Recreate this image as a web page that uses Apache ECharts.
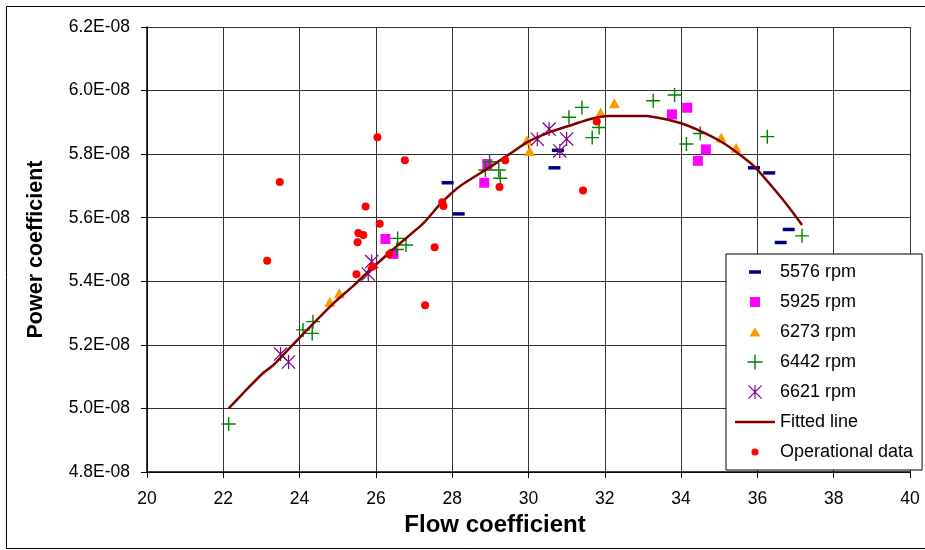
<!DOCTYPE html>
<html>
<head>
<meta charset="utf-8">
<script src="https://cdn.jsdelivr.net/npm/echarts@6/dist/echarts.min.js"></script>
<style>
html,body{margin:0;padding:0;background:#fff;}
#chart{width:925px;height:550px;}
</style>
</head>
<body>
<div id="chart"></div>
<script>
// Values of the power coefficient are in units of 1E-08
const xTicks = { min: 20, max: 40, interval: 2 };
const yTicks = { min: 4.8, max: 6.2, interval: 0.2 };

const rpm5576 = [[27.88,5.71],[28.17,5.612],[30.68,5.757],[30.77,5.812],[35.91,5.757],[36.31,5.741],[36.61,5.522],[36.82,5.563]];
const rpm5925 = [[26.25,5.533],[26.46,5.486],[28.84,5.71],[28.92,5.769],[33.76,5.925],[34.16,5.946],[34.44,5.779],[34.65,5.815]];
const rpm6273 = [[24.79,5.336],[25.04,5.362],[29.96,5.844],[30.03,5.81],[31.89,5.931],[32.25,5.96],[35.05,5.852],[35.44,5.82]];
const rpm6442 = [[22.14,4.951],[24.09,5.247],[24.35,5.273],[24.33,5.236],[26.57,5.535],[26.79,5.514],[26.55,5.50],[28.98,5.776],[28.87,5.75],[29.22,5.75],[29.26,5.724],[31.06,5.916],[31.4,5.947],[31.67,5.852],[31.85,5.884],[33.27,5.968],[33.83,5.986],[34.14,5.832],[34.5,5.865],[36.26,5.855],[37.17,5.543]];
const rpm6621 = [[23.5,5.171],[23.71,5.146],[25.80,5.423],[25.89,5.462],[30.23,5.847],[30.54,5.879],[30.82,5.81],[31.0,5.848]];
const fittedLine = [[22.14,5.0],[22.6,5.058],[23.03,5.11],[23.3,5.135],[23.74,5.19],[24.3,5.26],[24.88,5.33],[25.4,5.385],[25.84,5.435],[26.54,5.51],[27.24,5.582],[27.7,5.645],[28.21,5.70],[29.0,5.76],[29.5,5.80],[29.97,5.838],[30.58,5.87],[31.19,5.894],[31.6,5.91],[32.1,5.92],[33.1,5.92],[33.5,5.912],[34.0,5.897],[34.44,5.876],[35.05,5.839],[35.49,5.803],[35.93,5.76],[36.46,5.687],[36.81,5.635],[37.17,5.577]];
const operational = [[23.15,5.465],[23.48,5.712],[25.49,5.422],[25.52,5.523],[25.54,5.552],[25.67,5.546],[25.73,5.635],[25.91,5.446],[26.04,5.853],[26.10,5.581],[26.35,5.485],[26.76,5.781],[27.29,5.325],[27.54,5.507],[27.74,5.649],[27.77,5.637],[29.24,5.697],[29.39,5.781],[31.43,5.686],[31.79,5.903]];

const names = ['5576 rpm','5925 rpm','6273 rpm','6442 rpm','6621 rpm','Fitted line','Operational data'];
const colors = ['#000080','#FF00FF','#FF9900','#008000','#800080','#800000','#FF0000'];

const FONT = "'Liberation Sans', Arial, sans-serif";

const plusPath = 'path://M6.3,0h1.4v6.3h6.3v1.4h-6.3v6.3h-1.4v-6.3h-6.3v-1.4h6.3z';
const astPath = 'path://M6.4,0h1.2v14h-1.2z M0,0.85L0.85,0L14,13.15L13.15,14z M14,0.85L0.85,14L0,13.15L13.15,0z';

const sp = 'M0,0h0.01v0.01h-0.01z M15.99,15.99h0.01v0.01h-0.01z ';
const legendIcons = [
  'path://' + sp + 'M2,6.25h12v3.5h-12z',
  'path://' + sp + 'M3,3h10v10h-10z',
  'path://' + sp + 'M8,3.5L13.5,12.5L2.5,12.5z',
  'path://' + sp + 'M7.3,0.5h1.4v6.8h6.8v1.4h-6.8v6.8h-1.4v-6.8h-6.8v-1.4h6.8z',
  'path://' + sp + 'M7.4,1h1.2v14h-1.2z M1,1.85L1.85,1L15,14.15L14.15,15z M15,1.85L1.85,15L1,14.15L14.15,1z',
  'path://M0,0h0.01v0.01h-0.01z M39.99,15.99h0.01v0.01h-0.01z M0,6.75h40v2.5h-40z',
  'path://' + sp + 'M4.4,8a3.6,3.6 0 1,0 7.2,0a3.6,3.6 0 1,0 -7.2,0z'
];

const chart = echarts.init(document.getElementById('chart'), null, { renderer: 'canvas' });

function scatter(i, data, symbol, size) {
  return {
    name: names[i], type: 'scatter', data: data, symbol: symbol, symbolSize: size,
    itemStyle: { color: colors[i], opacity: 1 }, animation: false, z: 2 + i,
    emphasis: { disabled: true }
  };
}

chart.setOption({
  backgroundColor: '#fff',
  animation: false,
  grid: { left: 147, right: 15, top: 27, bottom: 78, containLabel: false },
  xAxis: {
    type: 'value', min: xTicks.min, max: xTicks.max, interval: xTicks.interval,
    name: 'Flow coefficient', nameLocation: 'middle', nameGap: 38,
    nameTextStyle: { fontFamily: FONT, fontSize: 24, fontWeight: 'bold', color: '#000', padding: [0, 67, 0, 0] },
    axisLine: { show: true, onZero: false, lineStyle: { color: '#000', width: 1.5 } },
    axisTick: { show: true, inside: false, length: 6, lineStyle: { color: '#000' } },
    axisLabel: { margin: 18, fontFamily: FONT, fontSize: 17.5, color: '#000' },
    splitLine: { show: true, lineStyle: { color: '#333', width: 1 } }
  },
  yAxis: {
    type: 'value', min: yTicks.min, max: yTicks.max, interval: yTicks.interval,
    name: 'Power coefficient', nameLocation: 'middle', nameGap: 100,
    nameTextStyle: { fontFamily: FONT, fontSize: 21.5, fontWeight: 'bold', color: '#000' },
    axisLine: { show: true, onZero: false, lineStyle: { color: '#000', width: 1.5 } },
    axisTick: { show: true, inside: false, length: 6, lineStyle: { color: '#000' } },
    axisLabel: { margin: 17, fontFamily: FONT, fontSize: 17.5, color: '#000',
      formatter: function (v) { return v.toFixed(1) + 'E-08'; } },
    splitLine: { show: true, lineStyle: { color: '#333', width: 1 } }
  },
  legend: {
    orient: 'vertical', left: 726, top: 254,
    padding: [9, 9, 9, 9], itemGap: 12, itemWidth: 40, itemHeight: 16,
    symbolKeepAspect: true, selectedMode: false,
    backgroundColor: '#fff', borderColor: '#000', borderWidth: 1, borderRadius: 0,
    textStyle: { fontFamily: FONT, fontSize: 18, color: '#000' },
    data: names.map(function (n, i) {
      return { name: n, icon: legendIcons[i], itemStyle: { color: colors[i], borderWidth: 0, opacity: 1 } };
    }),
    z: 20
  },
  series: [
    scatter(0, rpm5576, 'rect', [12, 3.5]),
    scatter(1, rpm5925, 'rect', 10),
    scatter(2, rpm6273, 'triangle', [11, 10]),
    scatter(3, rpm6442, plusPath, 14),
    scatter(4, rpm6621, astPath, 14),
    {
      name: names[5], type: 'line', data: fittedLine, showSymbol: false, symbol: 'none',
      smooth: 0.2, lineStyle: { color: colors[5], width: 2.5 }, itemStyle: { color: colors[5] },
      z: 8, emphasis: { disabled: true }
    },
    scatter(6, operational, 'circle', 8)
  ],
  graphic: [
    { type: 'rect', left: 4, top: 4, shape: { width: 940, height: 542 },
      style: { fill: 'none', stroke: '#000', lineWidth: 1 }, silent: true, z: 100 }
  ]
});
</script>
</body>
</html>
